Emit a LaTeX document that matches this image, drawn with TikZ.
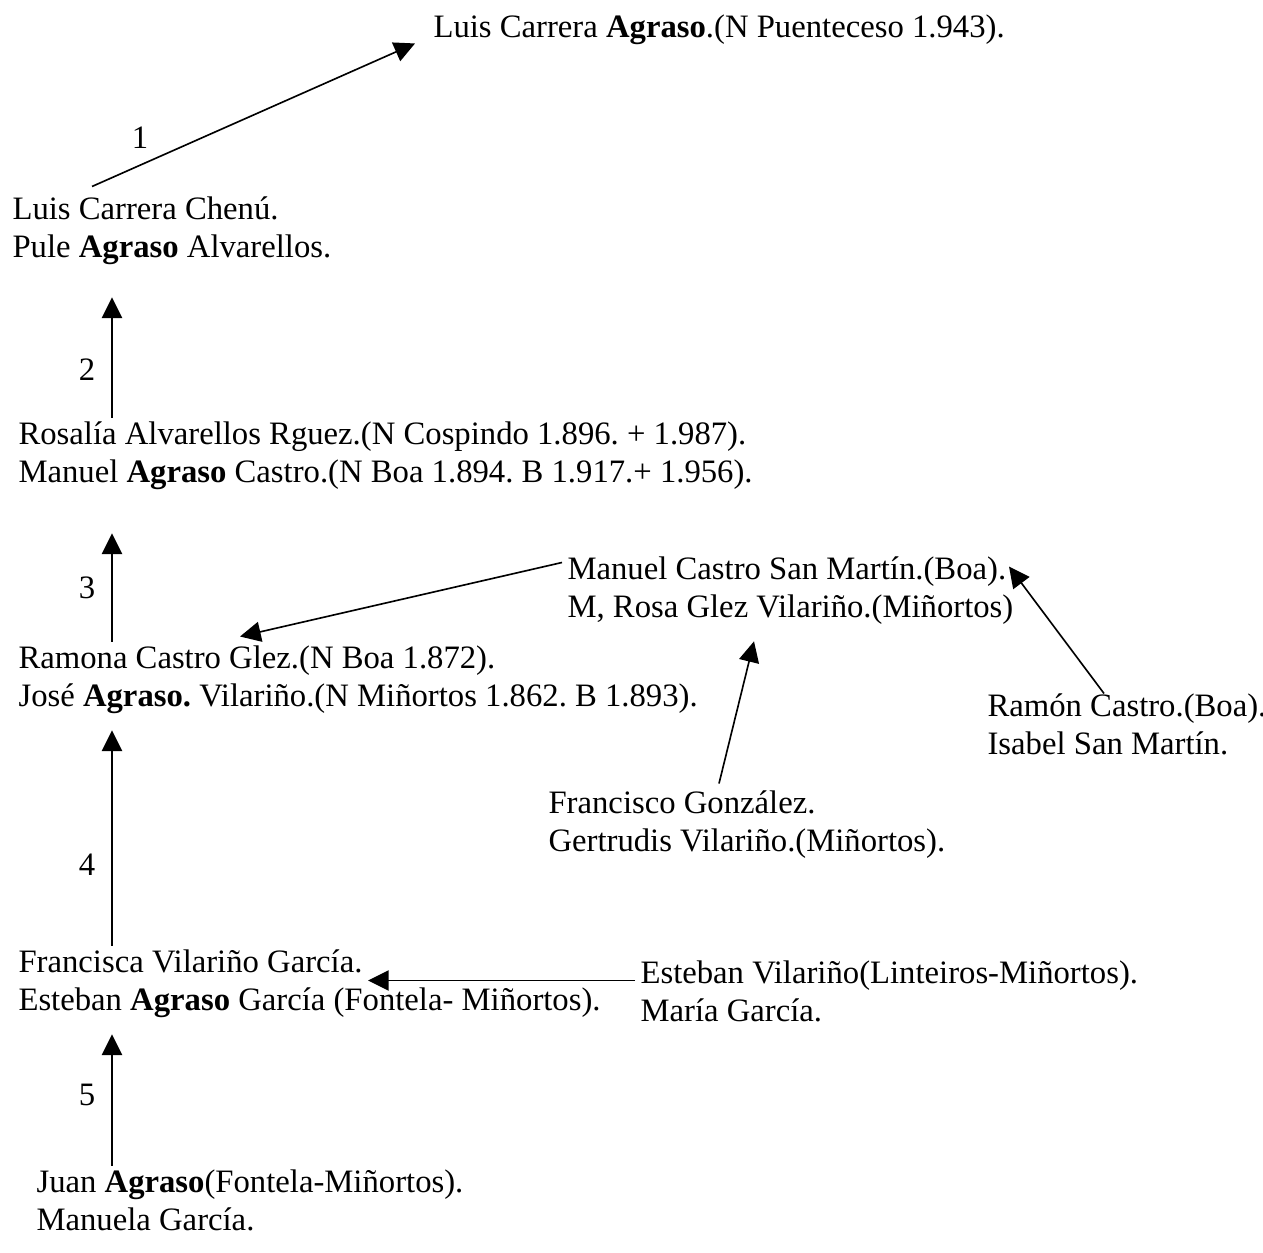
\documentclass[tikz,border=0pt]{standalone}
\usepackage{fontspec}
\setmainfont{Liberation Serif}
\usetikzlibrary{positioning,arrows.meta,calc}
\frenchspacing

\begin{document}
\begin{tikzpicture}[x=0.367pt, y=-0.367pt,
  every node/.style={font=\fontsize{12}{13.9}\selectfont, align=left, inner sep=0pt},
  person/.style={anchor=north west},
  gen/.style={anchor=center},
  arr/.style={-{Triangle[length=7.6pt, width=7.4pt]}, line width=0.6pt}]
  \useasboundingbox (0,0) rectangle (1263,1252);
  \coordinate (spine) at (112,0);
  % main line
  \node[person] (luis) at (433,10.5) {\strut Luis Carrera \textbf{Agraso}.(N Puenteceso 1.943).};
  \node[person] (chenu) at (12,192.5) {\strut Luis Carrera Chenú.\\\strut Pule \textbf{Agraso} Alvarellos.};
  \node[person] (rosalia) at (18,417.5) {\strut Rosalía Alvarellos Rguez.(N Cospindo 1.896. + 1.987).\\\strut Manuel \textbf{Agraso} Castro.(N Boa 1.894. B 1.917.+ 1.956).};
  \node[person] (ramona) at (18,641.5) {\strut Ramona Castro Glez.(N Boa 1.872).\\\strut José \textbf{Agraso.} Vilariño.(N Miñortos 1.862. B 1.893).};
  \node[person] (francisca) at (18,945.5) {\strut Francisca Vilariño García.\\\strut Esteban \textbf{Agraso} García (Fontela- Miñortos).};
  \node[person] (juan) at (36,1165.5) {\strut Juan \textbf{Agraso}(Fontela-Miñortos).\\\strut Manuela García.};
  % side lines
  \node[person] (castro) at (567,552.5) {\strut Manuel Castro San Martín.(Boa).\\\strut M, Rosa Glez Vilariño.(Miñortos)};
  \node[person] (ramon) at (987,689.5) {\strut Ramón Castro.(Boa).\\\strut Isabel San Martín.};
  \node[person] (gonzalez) at (548,786.5) {\strut Francisco González.\\\strut Gertrudis Vilariño.(Miñortos).};
  \node[person] (esteban) at (640,956.5) {\strut Esteban Vilariño(Linteiros-Miñortos).\\\strut María García.};
  % generation numbers
  \node[gen] (n1) at (140,138) {1};
  \node[gen] (n2) at (87,370) {2};
  \node[gen] (n3) at (87,588) {3};
  \node[gen] (n4) at (87,865) {4};
  \node[gen] (n5) at (87,1095) {5};
  % arrows
  \draw[arr] ($(chenu.north west)+(80,-6)$) -- ($(luis.south west)+(-18,-6)$);
  \draw[arr] (spine |- rosalia.north) -- ($(spine |- chenu.south)+(0,28)$);
  \draw[arr] (spine |- ramona.north) -- ($(spine |- rosalia.south)+(0,39)$);
  \draw[arr] (spine |- francisca.north) -- ($(spine |- ramona.south)+(0,12)$);
  \draw[arr] (spine |- juan.north) -- ($(spine |- francisca.south)+(0,12)$);
  \draw[arr] ($(castro.north west)+(-5,10)$) -- ($(ramona.north west)+(222,-5)$);
  \draw[arr] ($(gonzalez.north west)+(171,-3)$) -- ($(castro.south west)+(187,12)$);
  \draw[arr] ($(ramon.north west)+(117,4)$) -- ($(castro.north west)+(442,14)$);
  \draw[arr] ($(esteban.north west)+(-5,24)$) -- ($(francisca.north west)+(350,35)$);
\end{tikzpicture}
\end{document}
